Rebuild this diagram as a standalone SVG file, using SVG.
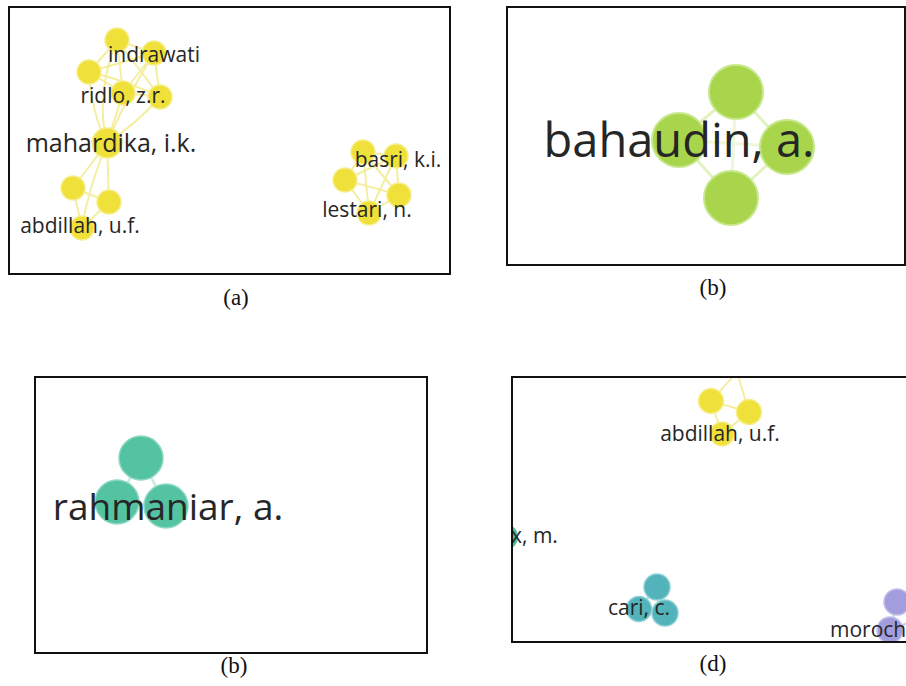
<svg xmlns="http://www.w3.org/2000/svg" width="906" height="686" viewBox="0 0 906 686">
  <defs>
    <style>
      .frame { fill: #ffffff; stroke: #111111; stroke-width: 2; }
      .lbl { font-family: "Open Sans", "DejaVu Sans", sans-serif; fill: #262626; text-anchor: middle; }
      .s21 { font-size: 21px; }
      .cap { font-family: "Liberation Serif", "Times New Roman", serif; font-size: 23px; fill: #111111; text-anchor: middle; }
      .yel { fill: #f0e13a; stroke: #f6ee8e; stroke-width: 1.5; }
      .lime { fill: #a8d54c; stroke: #c6e88a; stroke-width: 2; }
      .teal { fill: #54c3a1; stroke: #8fd8c2; stroke-width: 1.5; }
      .cyan { fill: #52b3bb; stroke: #8ccfd4; stroke-width: 1.5; }
      .mint { fill: #4dc09a; }
      .violet { fill: #a29ddc; stroke: #c4c0ec; stroke-width: 1.5; }
      .e-yel { stroke: #f3ec96; stroke-width: 2; fill: none; opacity: 0.9; }
      .e-lime { stroke: #e2f2c0; stroke-width: 3; fill: none; }
      .e-teal { stroke: #c6ebe0; stroke-width: 2.5; fill: none; }
      .e-cyan { stroke: #a9dbe0; stroke-width: 2; fill: none; }
      .e-violet { stroke: #cdcaf0; stroke-width: 2; fill: none; }
    </style>
    <clipPath id="clip-d">
      <rect x="513" y="378" width="400" height="263"/>
    </clipPath>
  </defs>

  <!-- panel frames -->
  <rect class="frame" x="9" y="7" width="441" height="267"/>
  <rect class="frame" x="507" y="7" width="398" height="258"/>
  <rect class="frame" x="35" y="377" width="392" height="276"/>
  <rect class="frame" x="512" y="377" width="400" height="265"/>

  <!-- captions -->
  <text class="cap" x="236" y="305">(a)</text>
  <text class="cap" x="713" y="295">(b)</text>
  <text class="cap" x="234" y="673">(b)</text>
  <text class="cap" x="713" y="671">(d)</text>

  <!-- connectors -->
  <g id="connectors">
    <!-- panel a, left cluster -->
    <path class="e-yel" d="M117 40 L154 53 M117 40 L89 72 M117 40 L123 93 M117 40 Q140 70 160 97 M154 53 L89 72 M154 53 L160 97 M154 53 L123 93 M89 72 L123 93 M89 72 Q125 80 160 97 M123 93 L160 97"/>
    <path class="e-yel" d="M89 72 Q92 115 107 143 M123 93 L107 143 M160 97 Q135 125 107 143 M154 53 Q125 100 107 143 M117 40 Q95 95 107 143"/>
    <path class="e-yel" d="M107 143 L73 188 M107 143 L109 202 M73 188 L109 202 M73 188 L82 228 M109 202 L82 228 M107 143 Q88 190 82 228"/>
    <!-- panel a, right cluster -->
    <path class="e-yel" d="M363 152 L396 156 M363 152 L345 180 M363 152 L399 195 M363 152 L369 213 M396 156 L345 180 M396 156 L399 195 M396 156 L369 213 M345 180 L399 195 M345 180 L369 213 M399 195 L369 213"/>
    <!-- panel b -->
    <path class="e-lime" d="M736 92 L679 140 M736 92 L787 147 M679 140 L731 198 M787 147 L731 198"/>
    <path class="e-lime" d="M736 92 L731 198 M679 140 L787 147" opacity="0.6"/>
    <!-- panel c -->
    <path class="e-teal" d="M141 458 L117 502 M141 458 L166 506 M117 502 L166 506"/>
    <path d="M141 452 L141 470" stroke="#3f9f84" stroke-width="3" opacity="0.5"/>
    <!-- panel d -->
    <g clip-path="url(#clip-d)">
      <path class="e-yel" d="M711 401 L737 372 M749 412 L737 372 M711 401 L749 412 M711 401 L722 434 M749 412 L722 434"/>
      <path class="e-cyan" d="M657 587 L639 609 M657 587 L665 613 M639 609 L665 613"/>
      <path class="e-violet" d="M897 602 L890 630 M897 602 L915 612 M890 630 L915 620"/>
    </g>
  </g>

  <!-- panel a nodes without labels -->
  <g id="node-a1"><circle class="yel" cx="117" cy="40" r="12"/></g>
  <g id="node-a3"><circle class="yel" cx="89" cy="72" r="12"/></g>
  <g id="node-a5"><circle class="yel" cx="160" cy="97" r="12"/></g>
  <g id="node-a7"><circle class="yel" cx="73" cy="188" r="12"/></g>
  <g id="node-a8"><circle class="yel" cx="109" cy="202" r="12"/></g>
  <g id="node-b1"><circle class="yel" cx="363" cy="152" r="12"/></g>
  <g id="node-b3"><circle class="yel" cx="345" cy="180" r="12"/></g>
  <g id="node-b4"><circle class="yel" cx="399" cy="195" r="12"/></g>

  <!-- panel a labelled nodes -->
  <g id="node-ridlo">
    <circle class="yel" cx="123" cy="93" r="12"/>
    <text class="lbl s21" x="123" y="103">ridlo, z.r.</text>
  </g>
  <g id="node-indrawati">
    <circle class="yel" cx="154" cy="53" r="12"/>
    <text class="lbl s21" x="154" y="62">indrawati</text>
  </g>
  <g id="node-mahardika">
    <circle class="yel" cx="107" cy="143" r="15"/>
    <text class="lbl" x="111" y="152" font-size="25">mahardika, i.k.</text>
  </g>
  <g id="node-abdillah-a">
    <circle class="yel" cx="82" cy="228" r="12"/>
    <text class="lbl s21" x="80" y="233">abdillah, u.f.</text>
  </g>
  <g id="node-basri">
    <circle class="yel" cx="396" cy="156" r="12"/>
    <text class="lbl s21" x="398" y="167">basri, k.i.</text>
  </g>
  <g id="node-lestari">
    <circle class="yel" cx="369" cy="213" r="12"/>
    <text class="lbl s21" x="367" y="217">lestari, n.</text>
  </g>

  <!-- panel b nodes -->
  <g id="node-b-top"><circle class="lime" cx="736" cy="92" r="27"/></g>
  <g id="node-b-right"><circle class="lime" cx="787" cy="147" r="27"/></g>
  <g id="node-b-bottom"><circle class="lime" cx="731" cy="198" r="27"/></g>
  <g id="node-bahaudin">
    <circle class="lime" cx="679" cy="140" r="27"/>
    <text class="lbl" x="679" y="157" font-size="47">bahaudin, a.</text>
  </g>

  <!-- panel c nodes -->
  <g id="node-c-top"><circle class="teal" cx="141" cy="458" r="22"/></g>
  <g id="node-c-left"><circle class="teal" cx="117" cy="502" r="22"/></g>
  <g id="node-rahmaniar">
    <circle class="teal" cx="166" cy="506" r="22"/>
    <text class="lbl" x="168" y="520" font-size="37">rahmaniar, a.</text>
  </g>

  <!-- panel d nodes -->
  <g clip-path="url(#clip-d)">
    <g id="node-d-y1"><circle class="yel" cx="711" cy="401" r="12.5"/></g>
    <g id="node-d-y2"><circle class="yel" cx="749" cy="412" r="12.5"/></g>
    <g id="node-abdillah-d">
      <circle class="yel" cx="722" cy="434" r="12"/>
      <text class="lbl s21" x="720" y="441">abdillah, u.f.</text>
    </g>
    <g id="node-xm">
      <circle class="mint" cx="505" cy="537" r="13"/>
      <text class="lbl s21" x="511" y="543" style="text-anchor:start">x, m.</text>
    </g>
    <g id="node-d-c1"><circle class="cyan" cx="657" cy="587" r="13"/></g>
    <g id="node-d-c2"><circle class="cyan" cx="665" cy="613" r="13"/></g>
    <g id="node-cari">
      <circle class="cyan" cx="639" cy="609" r="12.5"/>
      <text class="lbl s21" x="639" y="615">cari, c.</text>
    </g>
    <g id="node-d-v1"><circle class="violet" cx="897" cy="602" r="13"/></g>
    <g id="node-moroch">
      <circle class="violet" cx="890" cy="630" r="13"/>
      <text class="lbl s21" x="830" y="637" style="text-anchor:start">moroch</text>
    </g>
  </g>
</svg>
